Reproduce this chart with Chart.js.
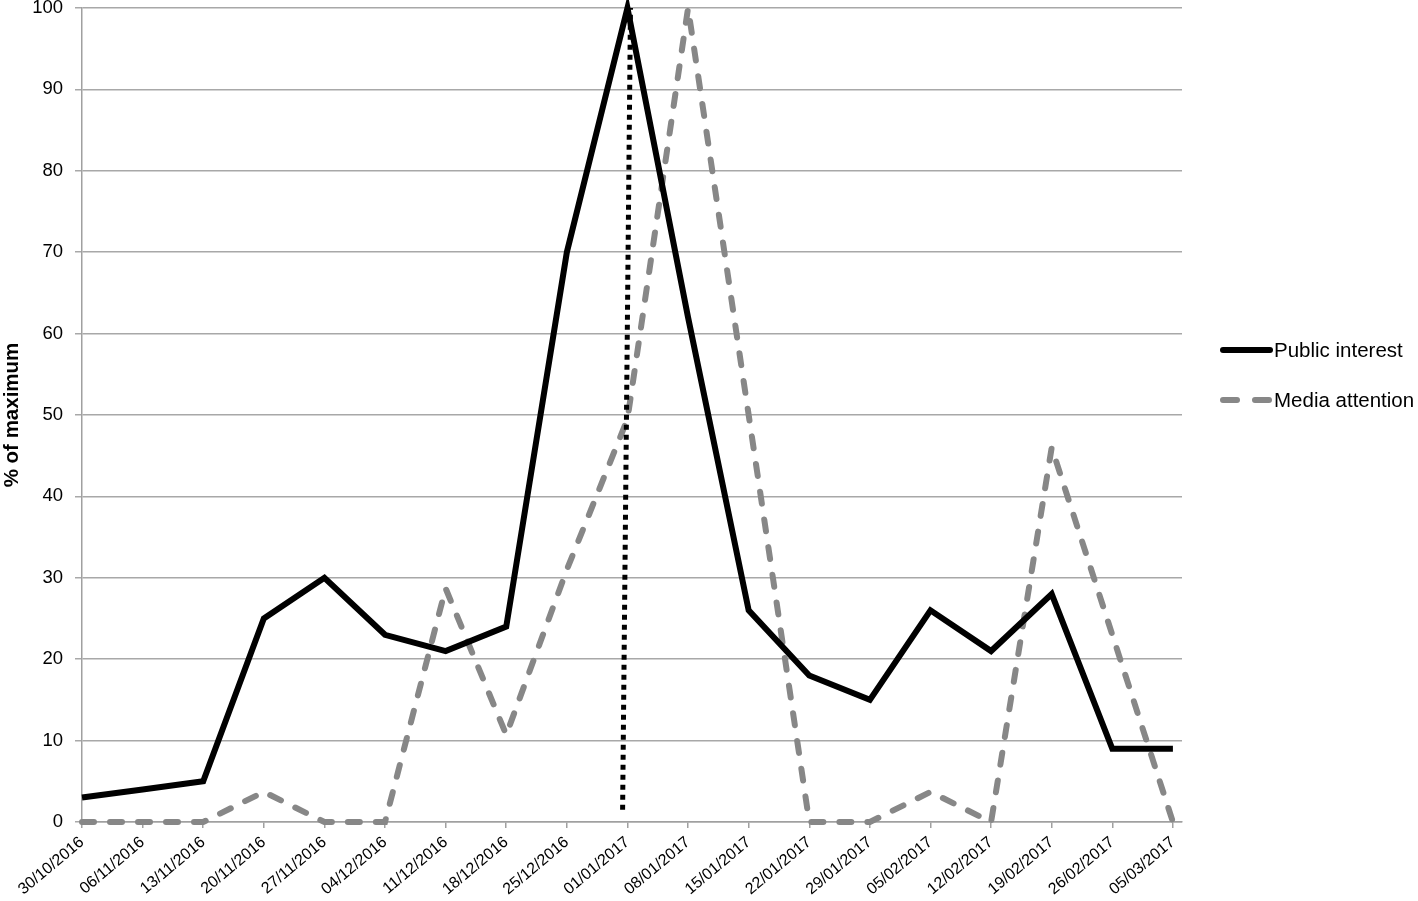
<!DOCTYPE html>
<html>
<head>
<meta charset="utf-8">
<script src="https://cdn.jsdelivr.net/npm/chart.js@4"></script>
<style>
  html, body { margin: 0; padding: 0; background: #fff; }
  #wrap { width: 1418px; height: 901px; position: relative; }
</style>
</head>
<body>
<div id="wrap"><canvas id="chart"></canvas></div>
<script>
const weeks = ['30/10/2016', '06/11/2016', '13/11/2016', '20/11/2016', '27/11/2016', '04/12/2016',
    '11/12/2016', '18/12/2016', '25/12/2016', '01/01/2017', '08/01/2017', '15/01/2017', '22/01/2017',
    '29/01/2017', '05/02/2017', '12/02/2017', '19/02/2017', '26/02/2017', '05/03/2017'];
const publicInterest = [3, 4, 5, 25, 30, 23, 21, 24, 70, 100, 62, 26, 18, 15, 26, 21, 28, 9, 9];
const mediaAttention = [0, 0, 0, 3.7, 0, 0, 28.7, 10.7, 31, 49.5, 100, 50, 0, 0, 3.7, 0, 46, 23, 0];
// vertical marker just before 01/01/2017 (x in week index units)
const markerX = [8.92, 9.05];
const markerY = [1.5, 100];
const yTicks = [0, 10, 20, 30, 40, 50, 60, 70, 80, 90, 100];

const FONT = "'Liberation Sans', Arial, sans-serif";
const GRAY = '#878787';

function toPoints(values) {
    return values.map((v, i) => ({ x: i, y: v }));
}

// legend drawn by hand on the right, like the original
const sideLegend = {
    id: 'sideLegend',
    afterDraw(chart) {
        const ctx = chart.ctx;
        const items = [
            { text: 'Public interest', color: '#000', dash: [], y: 350 },
            { text: 'Media attention', color: GRAY, dash: [14, 18], y: 400 }
        ];
        ctx.save();
        items.forEach(it => {
            ctx.beginPath();
            ctx.lineWidth = 6;
            ctx.lineCap = 'round';
            ctx.strokeStyle = it.color;
            ctx.setLineDash(it.dash);
            ctx.moveTo(1223, it.y);
            ctx.lineTo(1270, it.y);
            ctx.stroke();
            ctx.setLineDash([]);
            ctx.fillStyle = '#000';
            ctx.font = '20.5px ' + FONT;
            ctx.textBaseline = 'middle';
            ctx.fillText(it.text, 1274, it.y + 1);
        });
        ctx.restore();
    }
};

document.addEventListener('DOMContentLoaded', function () {
    new Chart(document.getElementById('chart').getContext('2d'), {
        type: 'line',
        data: {
            datasets: [{
                label: 'Public interest',
                data: toPoints(publicInterest),
                borderColor: '#000',
                borderWidth: 6,
                pointRadius: 0,
                tension: 0,
                clip: false,
                order: 1
            }, {
                label: 'Media attention',
                data: toPoints(mediaAttention),
                borderColor: GRAY,
                borderWidth: 6,
                borderDash: [12, 16],
                borderCapStyle: 'round',
                pointRadius: 0,
                tension: 0,
                clip: false,
                order: 2
            }, {
                label: 'marker',
                data: markerX.map((x, i) => ({ x: x, y: markerY[i] })),
                borderColor: '#000',
                borderWidth: 5,
                borderDash: [5, 5],
                pointRadius: 0,
                clip: false,
                order: 0
            }]
        },
        options: {
            responsive: true,
            maintainAspectRatio: false,
            animation: false,
            layout: { padding: { top: 0, right: 236, left: 0, bottom: 0 } },
            plugins: {
                legend: { display: false },
                tooltip: { enabled: false }
            },
            scales: {
                x: {
                    type: 'linear',
                    min: 0,
                    max: 18.15,
                    afterBuildTicks: s => { s.ticks = weeks.map((w, i) => ({ value: i })); },
                    afterFit: s => { s.height = 79; s.paddingLeft = 0; },
                    grid: { display: true, drawOnChartArea: false, drawTicks: true, tickLength: 6, color: '#a0a0a0', lineWidth: 1.5 },
                    border: { display: true, color: '#a0a0a0', width: 1.5 },
                    ticks: {
                        autoSkip: false,
                        maxRotation: 40,
                        minRotation: 40,
                        padding: 6,
                        color: '#000',
                        font: { family: FONT, size: 16, lineHeight: 1 },
                        callback: v => weeks[v]
                    }
                },
                y: {
                    min: 0,
                    max: 100,
                    afterBuildTicks: s => { s.ticks = yTicks.map(v => ({ value: v })); },
                    afterFit: s => { s.width = 82; s.paddingTop = 8; },
                    grid: { color: '#a8a8a8', lineWidth: 1.5, tickLength: 7 },
                    border: { display: true, color: '#a0a0a0', width: 1.5 },
                    ticks: {
                        color: '#000',
                        padding: 12,
                        font: { family: FONT, size: 18.5, lineHeight: 1 }
                    },
                    title: {
                        display: true,
                        text: '% of maximum',
                        color: '#000',
                        padding: { top: 0, bottom: 0 },
                        font: { family: FONT, size: 20.5, weight: 'bold' }
                    }
                }
            }
        },
        plugins: [sideLegend]
    });
});
</script>
</body>
</html>
